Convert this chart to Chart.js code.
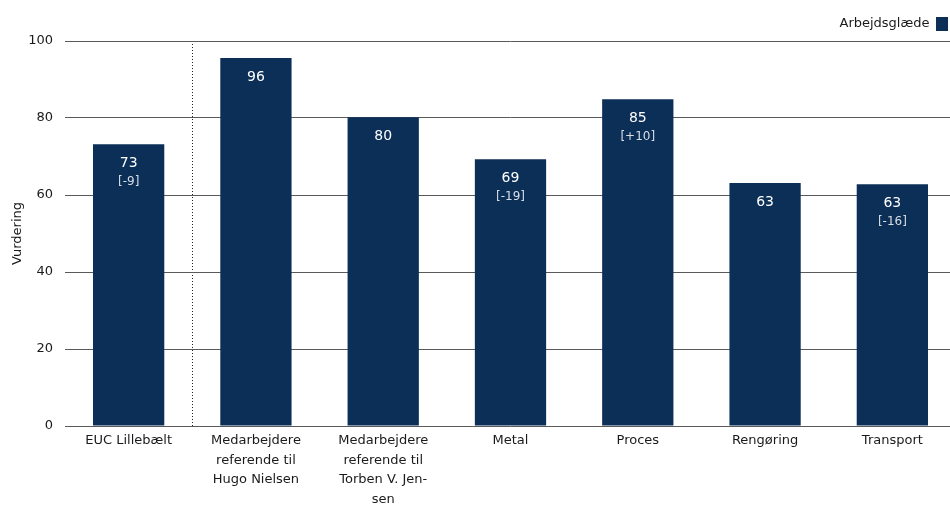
<!DOCTYPE html>
<html>
<head>
<meta charset="utf-8">
<script src="https://cdn.jsdelivr.net/npm/chart.js@4"></script>
<style>
  html, body { margin: 0; padding: 0; background: #fff; overflow: hidden; }
  #wrap { position: absolute; left: 0; top: 0; width: 956px; height: 505px; }
</style>
</head>
<body>
<div id="wrap"><canvas id="chart"></canvas></div>
<script>
const categories = [
  'EUC Lillebælt',
  ['Medarbejdere', 'referende til', 'Hugo Nielsen'],
  ['Medarbejdere', 'referende til', 'Torben V. Jen-', 'sen'],
  'Metal',
  'Proces',
  'Rengøring',
  'Transport'
];
const values = [73.2, 95.6, 80.2, 69.3, 84.9, 63.1, 62.8];
const changes = ['-9', null, null, '-19', '+10', null, '-16'];
const yTicks = [0, 20, 40, 60, 80, 100];

const FONT = "'DejaVu Sans', sans-serif";
const BAR = '#0c2f57';

// draws the value and the change in brackets inside each bar
const barLabels = {
  id: 'barLabels',
  afterDatasetsDraw(chart) {
    const ctx = chart.ctx;
    const meta = chart.getDatasetMeta(0);
    ctx.save();
    ctx.textAlign = 'center';
    ctx.textBaseline = 'middle';
    meta.data.forEach(function(bar, i) {
      ctx.fillStyle = '#ffffff';
      ctx.font = '14px ' + FONT;
      ctx.fillText(Math.round(values[i]), bar.x, bar.y + 19);
      if (changes[i]) {
        ctx.fillStyle = '#d8dde6';
        ctx.font = '12px ' + FONT;
        ctx.fillText('[' + changes[i] + ']', bar.x, bar.y + 38);
      }
    });
    ctx.restore();
  }
};

new Chart(document.getElementById('chart'), {
  type: 'bar',
  data: {
    labels: categories,
    datasets: [{
      label: 'Arbejdsglæde',
      data: values,
      backgroundColor: BAR,
      borderWidth: 0,
      categoryPercentage: 1,
      barPercentage: 0.56
    }]
  },
  options: {
    responsive: true,
    maintainAspectRatio: false,
    animation: false,
    layout: { padding: { top: 9, right: 0, left: 0, bottom: 0 } },
    plugins: {
      legend: {
        position: 'top',
        align: 'start',
        rtl: true,
        labels: {
          boxWidth: 12,
          boxHeight: 14,
          color: '#1a1a1a',
          font: { family: FONT, size: 13 },
          padding: 8
        }
      },
      tooltip: { enabled: false }
    },
    scales: {
      x: {
        grid: {
          offset: true,
          drawTicks: false,
          color: function(c) { return c.index === 1 ? '#222' : 'rgba(0,0,0,0)'; },
          lineWidth: 1
        },
        border: { display: false, dash: [1, 2] },
        ticks: {
          color: '#1a1a1a',
          font: { family: FONT, size: 13, lineHeight: 1.5 },
          padding: 5,
          maxRotation: 0,
          autoSkip: false
        },
        afterFit: function(scale) { scale.height = 79; }
      },
      y: {
        min: 0,
        max: 100,
        afterBuildTicks: function(scale) {
          scale.ticks = yTicks.map(function(v) { return { value: v }; });
        },
        grid: { color: '#5a5a5a', drawTicks: false, lineWidth: 1 },
        border: { display: false },
        ticks: {
          color: '#1a1a1a',
          font: { family: FONT, size: 13 },
          padding: 12
        },
        title: {
          display: true,
          text: 'Vurdering',
          color: '#1a1a1a',
          font: { family: FONT, size: 13 },
          padding: { top: 10, bottom: 0 }
        },
        afterFit: function(scale) { scale.width = 65; }
      }
    }
  },
  plugins: [barLabels]
});
</script>
</body>
</html>
